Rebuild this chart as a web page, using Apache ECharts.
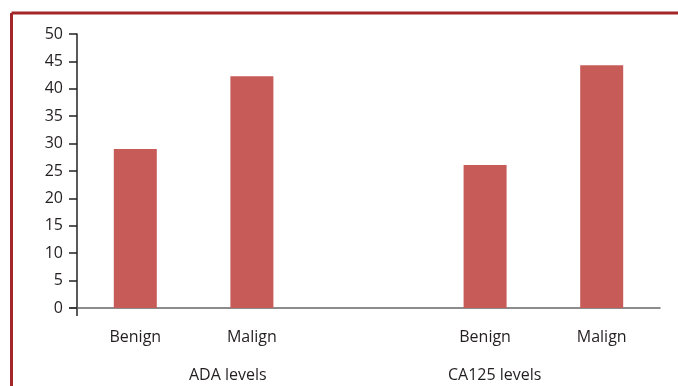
<!DOCTYPE html>
<html><head><meta charset="utf-8">
<script src="https://cdn.jsdelivr.net/npm/echarts@6/dist/echarts.min.js"></script>
<style>html,body{margin:0;padding:0;background:#fff}#c{width:678px;height:386px}</style>
</head><body><div id="c"></div>
<script>
const categories = ['Benign', 'Malign', '', 'Benign', 'Malign'];
const values = [29.0, 42.3, null, 26.1, 44.3];
const groupLabels = ['ADA levels', 'CA125 levels'];
const yTicks = [0, 5, 10, 15, 20, 25, 30, 35, 40, 45, 50];

const chart = echarts.init(document.getElementById('c'), null, {renderer: 'canvas'});
const font = '"Open Sans", "Noto Sans", sans-serif';
const txt = '#231f20';
chart.setOption({
  animation: false,
  backgroundColor: '#fff',
  grid: {left: 77, right: 18, top: 34, bottom: 78},
  xAxis: {
    type: 'category', data: categories,
    axisLine: {lineStyle: {color: '#666', width: 1.5}},
    axisTick: {show: false},
    axisLabel: {color: txt, fontSize: 16, fontFamily: font, margin: 21}
  },
  yAxis: {
    type: 'value', min: yTicks[0], max: yTicks[yTicks.length - 1], interval: 5,
    axisLine: {show: true, lineStyle: {color: '#222', width: 1.5}},
    axisTick: {show: true, length: 8, lineStyle: {color: '#222', width: 1.5}},
    splitLine: {show: false},
    axisLabel: {color: txt, fontSize: 16, fontFamily: font, margin: 14}
  },
  series: [{
    type: 'bar', data: values, barWidth: 43,
    itemStyle: {color: '#c75b57'}
  }]
});
const p0 = chart.convertToPixel({yAxisIndex: 0}, 0);
chart.setOption({
  graphic: [
    {type: 'line', shape: {x1: 11.5, y1: 13, x2: 678, y2: 13}, style: {stroke: '#a3262a', lineWidth: 3}},
    {type: 'line', shape: {x1: 11.5, y1: 13, x2: 11.5, y2: 386}, style: {stroke: '#a3262a', lineWidth: 3}},
    {type: 'line', shape: {x1: 77, y1: p0, x2: 77, y2: p0 + 8}, style: {stroke: '#222', lineWidth: 1.5}},
    {type: 'line', shape: {x1: 69, y1: p0, x2: 77, y2: p0}, style: {stroke: '#666', lineWidth: 1.5}},
    {type: 'text', left: 189, top: 367, style: {text: groupLabels[0], fill: txt, fontSize: 16, fontFamily: font}},
    {type: 'text', left: 448, top: 367, style: {text: groupLabels[1], fill: txt, fontSize: 16, fontFamily: font}}
  ]
});
</script></body></html>
